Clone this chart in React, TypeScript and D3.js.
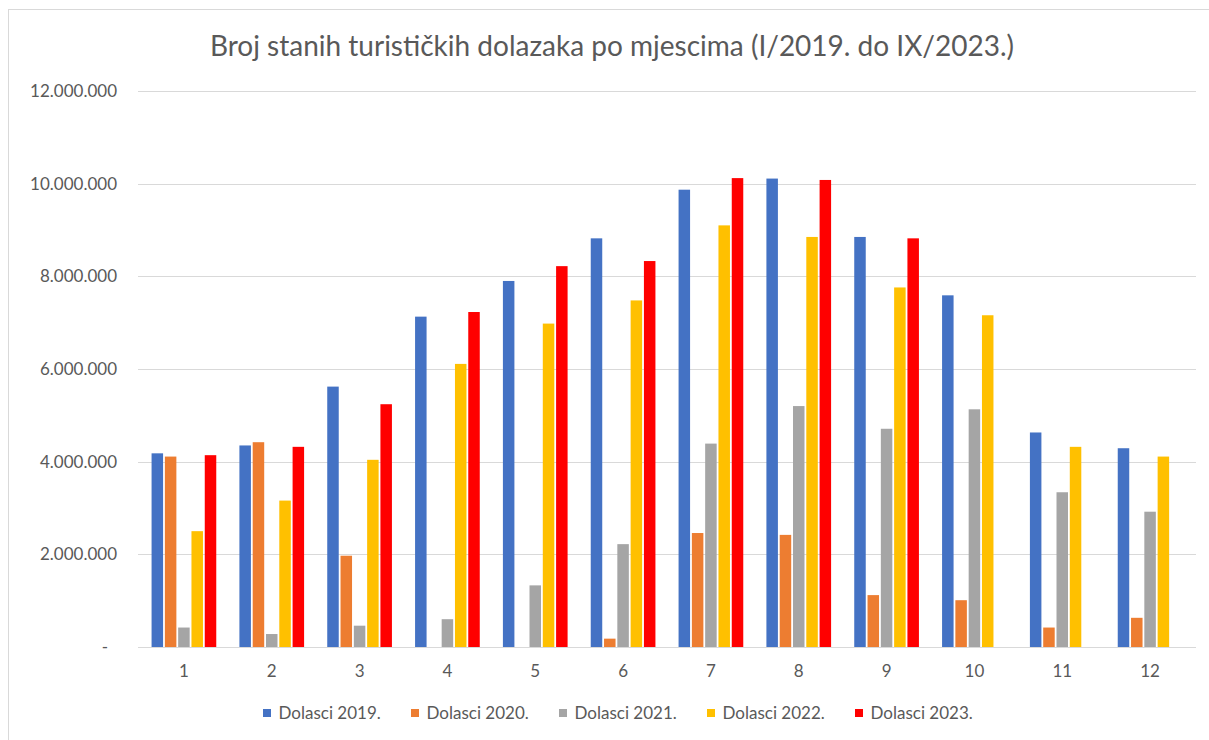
import React from "react";
import * as d3 from "d3";

const months = ["1", "2", "3", "4", "5", "6", "7", "8", "9", "10", "11", "12"];
const seriesNames = ["Dolasci 2019.", "Dolasci 2020.", "Dolasci 2021.", "Dolasci 2022.", "Dolasci 2023."];
const seriesColors = ["#4472C4", "#ED7D31", "#A5A5A5", "#FFC000", "#FF0000"];

const dolasci2019 = [4180000, 4350000, 5620000, 7130000, 7900000, 8820000, 9870000, 10110000, 8850000, 7590000, 4630000, 4290000];
const dolasci2020 = [4110000, 4420000, 1970000, 0, 0, 180000, 2460000, 2420000, 1120000, 1010000, 420000, 630000];
const dolasci2021 = [420000, 280000, 460000, 600000, 1330000, 2220000, 4390000, 5200000, 4710000, 5130000, 3340000, 2920000];
const dolasci2022 = [2500000, 3160000, 4040000, 6110000, 6980000, 7480000, 9100000, 8850000, 7760000, 7160000, 4320000, 4110000];
const dolasci2023 = [4140000, 4320000, 5240000, 7230000, 8220000, 8330000, 10120000, 10080000, 8820000, null, null, null];

const yTicks = [0, 2000000, 4000000, 6000000, 8000000, 10000000, 12000000];

const title = "Broj stanih turističkih dolazaka po mjescima (I/2019. do IX/2023.)";

const W = 1209;
const H = 740;
const FONT = "Lato, 'Open Sans', sans-serif";
const TEXT = "#595959";
const GRID = "#D9D9D9";

export default function App() {
  const allSeries = [dolasci2019, dolasci2020, dolasci2021, dolasci2022, dolasci2023];
  const left = 140;
  const right = 1194;
  const top = 91;
  const bottom = 647;

  const x0 = d3.scaleBand<string>().domain(months).range([left, right]).paddingInner(0.2635).paddingOuter(0.2635 / 2);
  const x1 = d3.scaleBand<string>().domain(seriesNames).range([0, x0.bandwidth()]).paddingInner(0.135);
  const y = d3.scaleLinear().domain([0, 12000000]).range([bottom, top]);

  const loc = d3.formatLocale({ decimal: ",", thousands: ".", grouping: [3], currency: ["", ""] });
  const fmt = loc.format(",");

  const legendStart = 263;
  const legendStep = 148;

  return (
    <svg width={W} height={H} style={{ position: "absolute", left: 0, top: 0, background: "#fff" }}>
      <rect x={0} y={0} width={W} height={H} fill="#fff" />
      <rect x={8.5} y={9.5} width={W + 50} height={H + 50} fill="#fff" stroke={GRID} strokeWidth={1} />
      <text x={612} y={56} textAnchor="middle" fontFamily={FONT} fontSize={28} fill={TEXT}>
        {title}
      </text>
      {yTicks.map((t) => (
        <g key={t}>
          <line x1={left - 2} x2={1196} y1={Math.round(y(t)) + 0.5} y2={Math.round(y(t)) + 0.5} stroke={GRID} strokeWidth={1} />
          <text
            x={t === 0 ? 108 : 117}
            y={y(t)}
            dy="0.35em"
            textAnchor="end"
            fontFamily={FONT}
            fontSize={17}
            fill={TEXT}
          >
            {t === 0 ? "-" : fmt(t)}
          </text>
        </g>
      ))}
      {allSeries.map((vals, si) => (
        <g key={si} fill={seriesColors[si]}>
          {vals.map((v, mi) =>
            v == null || v === 0 ? null : (
              <rect
                key={mi}
                x={(x0(months[mi]) as number) + (x1(seriesNames[si]) as number)}
                y={y(v)}
                width={x1.bandwidth()}
                height={y(0) - y(v)}
              />
            )
          )}
        </g>
      ))}
      {months.map((m) => (
        <text
          key={m}
          x={(x0(m) as number) + x0.bandwidth() / 2}
          y={677}
          textAnchor="middle"
          fontFamily={FONT}
          fontSize={17}
          fill={TEXT}
        >
          {m}
        </text>
      ))}
      {seriesNames.map((s, i) => (
        <g key={s} transform={`translate(${legendStart + i * legendStep},0)`}>
          <rect x={0} y={709} width={8} height={8} fill={seriesColors[i]} />
          <text x={15.5} y={719} fontFamily={FONT} fontSize={17} fill={TEXT}>
            {s}
          </text>
        </g>
      ))}
    </svg>
  );
}
